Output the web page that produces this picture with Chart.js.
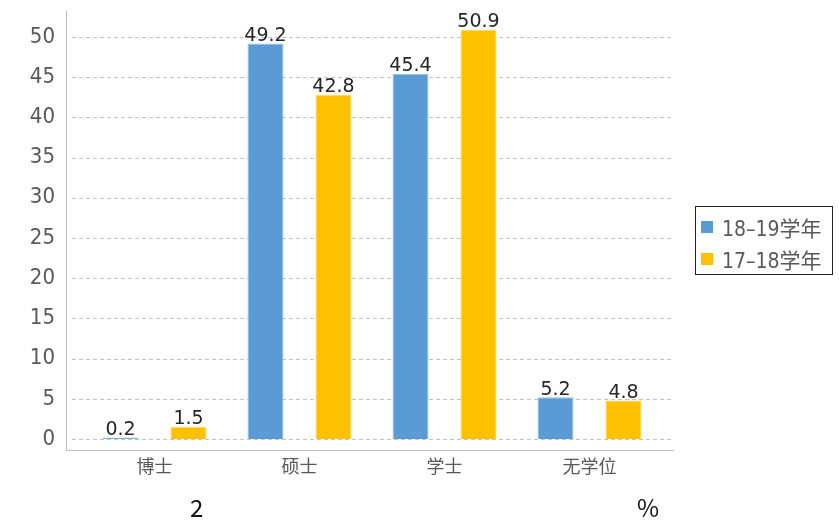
<!DOCTYPE html>
<html>
<head>
<meta charset="utf-8">
<script src="https://cdn.jsdelivr.net/npm/chart.js@4.4.1/dist/chart.umd.min.js"></script>
<style>
  body { margin: 0; background: #fff; font-family: "Noto Sans CJK SC", "DejaVu Sans", sans-serif; }
  #wrap { position: relative; width: 839px; height: 526px; }
  #legend {
    position: absolute; left: 695px; top: 206px; width: 138px; height: 69px;
    border: 1.5px solid #222; box-sizing: border-box; padding: 4px 0 0 5px;
  }
  .item { display: flex; align-items: center; height: 32px; font-size: 21px; color: #595959;
    font-family: "DejaVu Sans Condensed", "Noto Sans CJK SC", sans-serif; white-space: nowrap; }
  .sw { width: 12px; height: 12px; margin-right: 9px; }
  .cap { position: absolute; top: 489px; font-size: 24px; color: #111; }
</style>
</head>
<body>
<div id="wrap">
  <canvas id="chart" width="839" height="526"></canvas>
  <div id="legend"></div>
  <span class="cap" style="left:190px">2</span>
  <span class="cap" style="left:637px">%</span>
</div>
<script>
const categories = ['博士', '硕士', '学士', '无学位']
const seriesNames = ['18–19学年', '17–18学年']
const year1819 = [0.2, 49.2, 45.4, 5.2]
const year1718 = [1.5, 42.8, 50.9, 4.8]
const yTicks = [0, 5, 10, 15, 20, 25, 30, 35, 40, 45, 50]
const colors = ['#5b9bd5', '#ffc000']

const legendEl = document.getElementById('legend')
seriesNames.forEach((name, i) => {
  legendEl.innerHTML += `<div class="item"><span class="sw" style="background:${colors[i]}"></span>${name}</div>`
})

// axis lines, dashed grid and value labels
const decor = {
  id: 'decor',
  beforeDatasetsDraw(chart) {
    const ctx = chart.ctx
    const y = chart.scales.y
    const area = chart.chartArea
    ctx.save()
    ctx.strokeStyle = '#c4c4c4'
    ctx.lineWidth = 1
    ctx.setLineDash([4, 3])
    yTicks.forEach(v => {
      const py = Math.round(y.getPixelForValue(v)) + 0.5
      ctx.beginPath()
      ctx.moveTo(72, py)
      ctx.lineTo(674, py)
      ctx.stroke()
    })
    ctx.setLineDash([])
    ctx.strokeStyle = '#bfbfbf'
    ctx.beginPath()
    ctx.moveTo(66.5, area.top)
    ctx.lineTo(66.5, area.bottom)
    ctx.moveTo(66, area.bottom + 0.5)
    ctx.lineTo(674, area.bottom + 0.5)
    ctx.stroke()
    ctx.restore()
  },
  afterDatasetsDraw(chart) {
    const ctx = chart.ctx
    ctx.save()
    ctx.font = '19px "DejaVu Sans", sans-serif'
    ctx.fillStyle = '#262626'
    ctx.textAlign = 'center'
    ctx.textBaseline = 'bottom'
    chart.data.datasets.forEach((ds, i) => {
      chart.getDatasetMeta(i).data.forEach((bar, j) => {
        ctx.fillText(ds.data[j].toFixed(1), bar.x, bar.y + 2)
      })
    })
    ctx.restore()
  }
}

new Chart(document.getElementById('chart'), {
  type: 'bar',
  data: {
    labels: categories,
    datasets: [
      { label: seriesNames[0], data: year1819, backgroundColor: colors[0], borderColor: '#9dc3e6', borderWidth: 1 },
      { label: seriesNames[1], data: year1718, backgroundColor: colors[1], borderColor: '#ffd966', borderWidth: 1 }
    ]
  },
  options: {
    responsive: false,
    animation: false,
    categoryPercentage: 0.938,
    barPercentage: 0.53,
    layout: { padding: { left: 22, right: 177, top: 11, bottom: 46 } },
    plugins: { legend: { display: false }, tooltip: { enabled: false } },
    scales: {
      x: {
        grid: { display: false, drawTicks: false },
        border: { display: false },
        ticks: { color: '#595959', font: { size: 18, family: '"Noto Sans CJK SC", sans-serif' }, padding: 5 },
        afterFit: s => { s.height = 30 }
      },
      y: {
        min: -1.37,
        max: 53.23,
        grid: { display: false, drawTicks: false },
        border: { display: false },
        ticks: { color: '#595959', font: { size: 22, family: '"DejaVu Sans Condensed", sans-serif' }, padding: 27 },
        afterBuildTicks: s => { s.ticks = yTicks.map(v => ({ value: v })) },
        afterFit: s => { s.width = 60; s.paddingTop = 0; s.paddingBottom = 0 }
      }
    }
  },
  plugins: [decor]
})
</script>
</body>
</html>
